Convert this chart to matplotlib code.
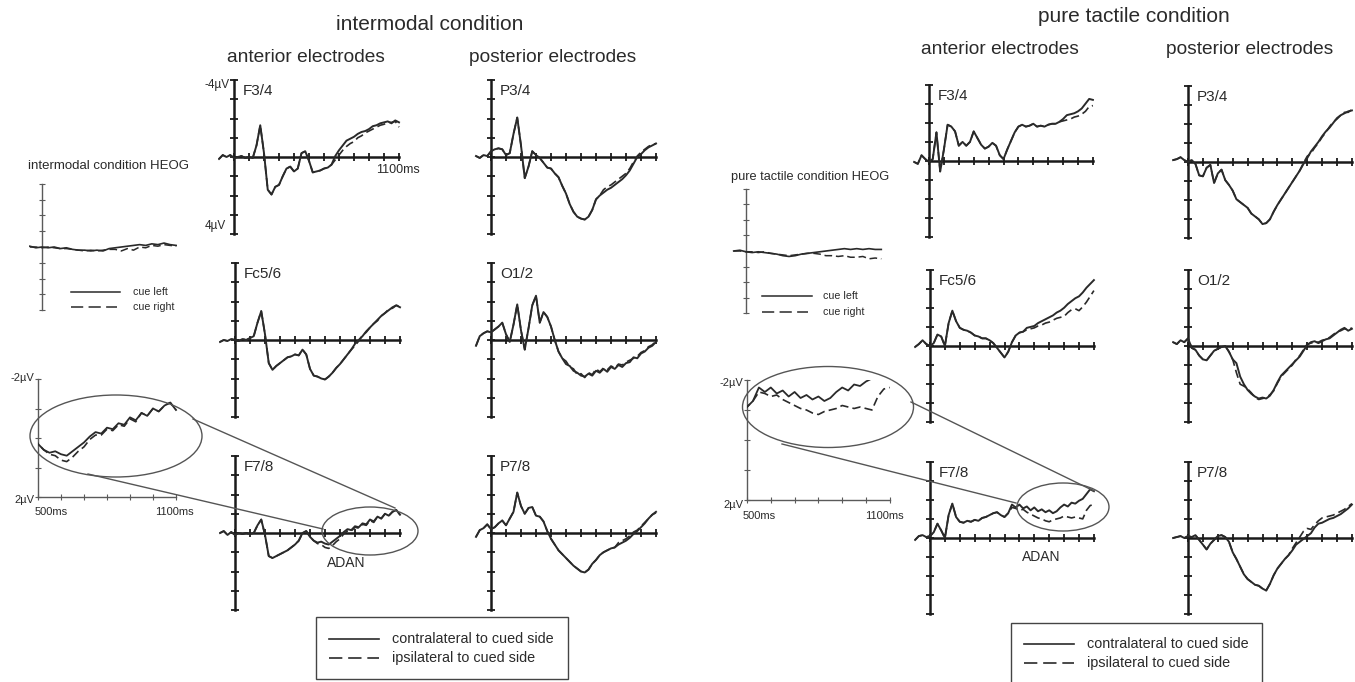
import matplotlib
matplotlib.use("Agg")
import matplotlib.pyplot as plt
from matplotlib.patches import Ellipse, Rectangle
from matplotlib.lines import Line2D

plt.rcParams['font.family'] = ['Liberation Sans', 'DejaVu Sans']

W, H = 1355, 682
TRACE = '#2a2a2a'
AXC = '#1a1a1a'
TXT = '#2a2a2a'
GRAY = '#5a5a5a'

# ---------------- data (µV, negative up) ----------------
times = list(range(-100, 1101, 25))       # 49 samples
heog_times = list(range(-100, 1101, 50))  # 25 samples

# intermodal condition
im_f34_contra = [0.10, -0.10, 0.00, -0.10, 0.05, 0.00, -0.05, 0.05, 0.00, 0.05,
                 -0.60, -1.65, -0.20, 1.70, 1.95, 1.55, 1.45, 1.00, 0.60, 0.50,
                 0.75, 0.60, -0.20, -0.30, 0.20, 0.80, 0.75, 0.70, 0.60, 0.55,
                 0.40, -0.05, -0.35, -0.60, -0.85, -0.95, -1.05, -1.20, -1.30, -1.35,
                 -1.45, -1.60, -1.65, -1.75, -1.80, -1.85, -1.75, -1.90, -1.80]
im_f34_ipsi = im_f34_contra[:31] + [0.15, -0.10, -0.35, -0.55, -0.70, -0.80, -1.00, -1.10,
                                    -1.25, -1.35, -1.45, -1.55, -1.65, -1.70, -1.80, -1.80,
                                    -1.85, -1.55]
im_p34_contra = [-0.05, 0.05, -0.10, -0.05, -0.30, -0.40, -0.45, -0.40, -0.10, -0.20,
                 -1.20, -2.05, -0.60, 1.10, 0.50, -0.30, -0.10, 0.05, 0.30, 0.55,
                 0.60, 0.85, 1.05, 1.50, 1.90, 2.45, 2.85, 3.10, 3.20, 3.25,
                 3.10, 2.75, 2.20, 2.00, 1.85, 1.70, 1.60, 1.45, 1.30, 1.15,
                 0.95, 0.70, 0.35, 0.00, -0.15, -0.35, -0.50, -0.60, -0.70]
im_p34_ipsi = im_p34_contra[:34] + [1.70, 1.55, 1.45, 1.30, 1.15, 1.00, 0.85, 0.60, 0.25,
                                    -0.05, -0.25, -0.40, -0.55, -0.65, -0.70]
im_fc56_contra = [0.10, 0.00, 0.05, -0.05, 0.00, 0.05, -0.05, 0.00, -0.10, -0.20,
                  -0.90, -1.50, -0.30, 1.20, 1.55, 1.35, 1.20, 1.05, 0.90, 0.85,
                  0.75, 0.80, 0.50, 0.75, 1.50, 1.85, 1.90, 2.00, 2.05, 1.90,
                  1.70, 1.45, 1.25, 1.00, 0.75, 0.50, 0.20, 0.00, -0.20, -0.45,
                  -0.65, -0.85, -1.05, -1.25, -1.40, -1.55, -1.70, -1.80, -1.70]
im_fc56_ipsi = im_fc56_contra[:36] + [0.30, 0.05, -0.25, -0.40, -0.65, -0.85, -1.00, -1.25,
                                      -1.40, -1.60, -1.65, -1.80, -1.75]
im_o12_contra = [0.30, -0.20, -0.35, -0.45, -0.40, -0.55, -0.70, -0.90, -0.30, 0.10,
                 -0.80, -1.85, -0.50, 0.50, -0.60, -1.80, -2.30, -0.90, -1.45, -1.20,
                 -0.70, 0.00, 0.60, 0.95, 1.25, 1.35, 1.60, 1.70, 1.85, 1.90,
                 1.75, 1.85, 1.60, 1.70, 1.50, 1.65, 1.40, 1.50, 1.30, 1.40,
                 1.20, 1.15, 0.90, 0.95, 0.70, 0.60, 0.40, 0.30, 0.10]
im_o12_ipsi = im_o12_contra[:24] + [1.10, 1.40, 1.50, 1.80, 1.75, 1.95, 1.70, 1.80, 1.50,
                                    1.65, 1.45, 1.55, 1.35, 1.45, 1.25, 1.30, 1.15, 1.05,
                                    0.95, 0.85, 0.65, 0.55, 0.35, 0.25, 0.05]
im_f78_contra = [0.00, -0.10, 0.10, -0.05, 0.10, 0.00, 0.05, 0.00, 0.05, 0.00,
                 -0.40, -0.70, 0.10, 1.20, 1.30, 1.20, 1.10, 1.00, 0.90, 0.75,
                 0.60, 0.40, 0.00, -0.10, 0.20, 0.40, 0.50, 0.45, 0.55, 0.60,
                 0.45, 0.30, 0.15, -0.05, -0.20, -0.15, -0.35, -0.30, -0.50, -0.45,
                 -0.70, -0.60, -0.85, -0.75, -1.00, -0.90, -1.10, -1.20, -0.95]
im_f78_ipsi = im_f78_contra[:26] + [0.55, 0.60, 0.75, 0.80, 0.65, 0.45, 0.30, 0.05, -0.10,
                                    -0.10, -0.30, -0.25, -0.45, -0.40, -0.65, -0.55, -0.85,
                                    -0.75, -1.00, -0.90, -1.10, -1.20, -0.95]
im_p78_contra = [0.20, -0.15, -0.25, -0.45, -0.20, -0.30, -0.50, -0.65, -0.40, -0.75,
                 -1.10, -2.10, -1.40, -1.00, -1.30, -1.35, -0.90, -0.85, -0.60, -0.10,
                 0.30, 0.60, 0.90, 1.10, 1.30, 1.50, 1.70, 1.85, 2.00, 2.05,
                 1.90, 1.60, 1.40, 1.15, 1.00, 0.90, 0.80, 0.75, 0.60, 0.50,
                 0.40, 0.25, 0.05, -0.10, -0.30, -0.50, -0.75, -0.95, -1.10]
im_p78_ipsi = im_p78_contra[:38] + [0.50, 0.40, 0.30, 0.15, -0.05, -0.15, -0.35, -0.55,
                                    -0.75, -0.95, -1.05]
im_heog_left = [-0.05, 0.05, 0.00, 0.05, 0.00, 0.10, 0.05, 0.15, 0.20, 0.20, 0.25, 0.20,
                0.25, 0.10, 0.05, 0.00, -0.05, -0.10, -0.15, -0.10, -0.20, -0.15, -0.25,
                -0.15, -0.10]
im_heog_right = [0.00, 0.00, 0.05, 0.00, 0.05, 0.10, 0.10, 0.15, 0.20, 0.25, 0.20, 0.25,
                 0.20, 0.15, 0.15, 0.25, 0.10, 0.20, 0.00, 0.05, -0.10, -0.05, -0.15,
                 -0.10, -0.05]

# pure tactile condition
pt_f34_contra = [0.05, 0.15, -0.30, -0.10, 0.05, -0.10, -1.50, 0.55, -0.60, -1.90,
                 -1.80, -1.55, -0.80, -1.00, -0.80, -1.00, -1.55, -1.20, -0.85, -0.65,
                 -0.75, -0.95, -0.80, -0.30, -0.10, -0.60, -1.05, -1.50, -1.80, -1.90,
                 -1.80, -1.85, -1.95, -1.80, -1.85, -1.80, -1.90, -1.95, -1.95, -2.05,
                 -2.20, -2.40, -2.45, -2.50, -2.60, -2.75, -3.00, -3.25, -3.20]
pt_f34_ipsi = pt_f34_contra[:40] + [-2.10, -2.15, -2.20, -2.30, -2.35, -2.45, -2.60, -2.85,
                                    -2.90]
pt_p34_contra = [-0.10, -0.15, -0.25, -0.10, 0.00, -0.10, 0.10, 0.70, 0.75, 0.30,
                 0.15, 1.10, 0.60, 0.40, 0.95, 1.20, 1.50, 1.95, 2.10, 2.25,
                 2.40, 2.70, 2.85, 3.00, 3.25, 3.20, 3.00, 2.60, 2.25, 1.95,
                 1.65, 1.35, 1.05, 0.75, 0.45, 0.10, -0.20, -0.55, -0.80, -1.05,
                 -1.35, -1.60, -1.80, -2.05, -2.30, -2.45, -2.55, -2.65, -2.70]
pt_p34_ipsi = pt_p34_contra[:35] + [0.05, -0.30, -0.45, -0.75, -1.00, -1.30, -1.55, -1.85,
                                    -2.10, -2.25, -2.45, -2.60, -2.60, -2.75]
pt_fc56_contra = [0.05, -0.10, -0.30, -0.10, 0.00, -0.15, -0.60, -0.50, 0.00, -1.20,
                  -1.85, -1.30, -0.95, -0.85, -0.80, -0.70, -0.55, -0.50, -0.40, -0.40,
                  -0.30, -0.15, 0.10, 0.35, 0.60, 0.30, -0.20, -0.55, -0.70, -0.75,
                  -0.95, -1.00, -1.05, -1.20, -1.30, -1.40, -1.50, -1.60, -1.75, -1.85,
                  -2.00, -2.20, -2.35, -2.50, -2.60, -2.80, -3.05, -3.25, -3.45]
pt_fc56_ipsi = pt_fc56_contra[:30] + [-0.85, -0.90, -0.95, -1.05, -1.10, -1.20, -1.25,
                                      -1.35, -1.45, -1.50, -1.55, -1.75, -1.90, -1.95,
                                      -1.85, -2.05, -2.30, -2.60, -2.90]
pt_o12_contra = [-0.20, -0.10, -0.30, -0.20, -0.40, 0.10, 0.20, 0.50, 0.70, 0.75,
                 0.50, 0.25, 0.15, 0.05, 0.00, 0.30, 0.70, 0.90, 1.60, 2.00,
                 2.30, 2.50, 2.65, 2.75, 2.70, 2.75, 2.60, 2.30, 1.90, 1.55,
                 1.35, 1.15, 0.95, 0.75, 0.55, 0.25, -0.05, -0.20, -0.25, -0.15,
                 -0.25, -0.35, -0.40, -0.55, -0.70, -0.85, -0.95, -0.80, -0.90]
pt_o12_ipsi = pt_o12_contra[:17] + [1.40, 2.00, 2.10, 2.25, 2.45, 2.70, 2.80, 2.75, 2.70,
                                    2.55, 2.35, 1.95, 1.60, 1.40, 1.20, 1.00, 0.70, 0.50,
                                    0.20, -0.10, -0.15, -0.20, -0.20, -0.30, -0.35, -0.45,
                                    -0.60, -0.75, -0.80, -0.90, -0.85, -0.95]
pt_f78_contra = [0.10, -0.10, -0.15, -0.05, -0.10, -0.30, -0.75, -0.40, 0.00, -1.20,
                 -1.80, -1.10, -0.85, -0.80, -0.90, -0.85, -0.95, -0.90, -1.05, -1.10,
                 -1.20, -1.30, -1.35, -1.20, -1.10, -1.30, -1.75, -1.60, -1.75, -1.55,
                 -1.65, -1.45, -1.60, -1.40, -1.50, -1.35, -1.45, -1.30, -1.40, -1.60,
                 -1.75, -1.65, -1.85, -1.80, -1.95, -2.05, -2.30, -2.55, -2.45]
pt_f78_ipsi = pt_f78_contra[:26] + [-1.60, -1.55, -1.45, -1.50, -1.35, -1.25, -1.15, -1.05,
                                    -1.00, -0.90, -0.85, -0.95, -1.00, -1.05, -1.15, -1.10,
                                    -1.05, -1.10, -1.05, -1.00, -1.45, -1.70, -1.75]
pt_p78_contra = [0.00, -0.05, -0.10, 0.00, -0.10, -0.05, -0.15, 0.10, 0.35, 0.60,
                 0.30, 0.10, -0.10, -0.15, -0.05, 0.20, 0.75, 1.10, 1.50, 1.90,
                 2.15, 2.30, 2.45, 2.50, 2.65, 2.75, 2.40, 1.95, 1.60, 1.35,
                 1.10, 0.90, 0.65, 0.35, 0.20, 0.05, -0.10, -0.25, -0.55, -0.75,
                 -0.80, -0.90, -1.00, -1.05, -1.15, -1.25, -1.40, -1.55, -1.75]
pt_p78_ipsi = pt_p78_contra[:32] + [0.55, 0.25, -0.05, -0.35, -0.50, -0.45, -0.70, -0.90,
                                    -1.05, -1.10, -1.15, -1.20, -1.30, -1.40, -1.50, -1.65,
                                    -1.80]
pt_heog_left = [0.00, -0.05, 0.05, 0.10, 0.05, 0.10, 0.15, 0.20, 0.30, 0.35, 0.30, 0.20,
                0.15, 0.10, 0.05, 0.00, -0.05, -0.10, -0.15, -0.10, -0.15, -0.10, -0.15,
                -0.10, -0.10]
pt_heog_right = [0.00, 0.00, 0.05, 0.05, 0.10, 0.05, 0.15, 0.20, 0.25, 0.30, 0.25, 0.20,
                 0.15, 0.15, 0.20, 0.30, 0.30, 0.35, 0.30, 0.40, 0.40, 0.35, 0.50, 0.45,
                 0.50]

x_ticks_ms = list(range(0, 1101, 100))
y_ticks_uv = list(range(-4, 5))
inset_x_ticks = list(range(500, 1101, 100))
inset_y_ticks = list(range(-2, 3))

# ---------------- figure ----------------
fig = plt.figure(figsize=(W / 100, H / 100), dpi=100)
fig.patch.set_facecolor('white')
DASH = (0, (5, 2.5))
LEG_DASH = (0, (8, 3.5))


def fx(x):
    return x / W


def fy(y):
    return 1 - y / H


def ftext(x, y, s, size, ha='left', va='center', **kw):
    fig.text(fx(x), fy(y), s, fontsize=size, ha=ha, va=va, color=TXT, **kw)


def make_axes(ax_x, zero_y, pxms, pxuv, tmin, tmax, vtop, vbot):
    # ax_x: pixel column of t = 0 ms, zero_y: pixel row of 0 µV
    left = ax_x + tmin / 100 * pxms
    right = ax_x + tmax / 100 * pxms
    top = zero_y + vtop * pxuv
    bottom = zero_y + vbot * pxuv
    ax = fig.add_axes([fx(left), fy(bottom), (right - left) / W, (bottom - top) / H])
    ax.set_xlim(tmin, tmax)
    ax.set_ylim(vbot, vtop)
    ax.patch.set_alpha(0)
    return ax


def erp_panel(ax_x, zero_y, pxms, pxuv, label, contra, ipsi):
    ax = make_axes(ax_x, zero_y, pxms, pxuv, -110, 1115, -4.3, 4.3)
    for s in ('top', 'right'):
        ax.spines[s].set_visible(False)
    ax.spines['left'].set_position(('data', 0))
    ax.spines['bottom'].set_position(('data', 0))
    ax.spines['left'].set_bounds(-4, 4)
    ax.spines['bottom'].set_bounds(0, 1100)
    for s in ('left', 'bottom'):
        ax.spines[s].set_linewidth(1.8)
        ax.spines[s].set_color(AXC)
    ax.set_xticks(x_ticks_ms)
    ax.set_yticks(y_ticks_uv)
    ax.tick_params(direction='inout', length=6, width=1.3, colors=AXC,
                   labelbottom=False, labelleft=False)
    ax.plot(times, contra, color=TRACE, lw=1.4, zorder=3)
    ax.plot(times, ipsi, color=TRACE, lw=1.2, ls=DASH, zorder=3)
    ftext(ax_x + 9, zero_y - 4 * pxuv + 11, label, 11)
    return ax


def heog_panel(ax_x, zero_y, pxms, pxuv, left_vals, right_vals):
    ax = make_axes(ax_x, zero_y, pxms, pxuv, -110, 1110, -4.2, 4.2)
    for s in ('top', 'right', 'bottom'):
        ax.spines[s].set_visible(False)
    ax.spines['left'].set_position(('data', 0))
    ax.spines['left'].set_bounds(-4, 4)
    ax.spines['left'].set_linewidth(1.0)
    ax.spines['left'].set_color(GRAY)
    ax.set_xticks([])
    ax.set_yticks(y_ticks_uv)
    ax.tick_params(axis='y', direction='inout', length=4, width=0.8, colors=GRAY,
                   labelleft=False)
    ax.plot(heog_times, left_vals, color=TRACE, lw=1.2, zorder=3)
    ax.plot(heog_times, right_vals, color=TRACE, lw=1.1, ls=DASH, zorder=3)
    return ax


def inset_panel(x500, zero_y, pxms, pxuv, contra, ipsi):
    # x500: pixel column of t = 500 ms (the inset's origin)
    ax = make_axes(x500 - 5 * pxms, zero_y, pxms, pxuv, 500, 1108, -2, 2)
    for s in ('top', 'right'):
        ax.spines[s].set_visible(False)
    ax.spines['bottom'].set_bounds(500, 1100)
    for s in ('left', 'bottom'):
        ax.spines[s].set_linewidth(1.0)
        ax.spines[s].set_color(GRAY)
    ax.set_xticks(inset_x_ticks)
    ax.set_yticks(inset_y_ticks)
    ax.tick_params(direction='inout', length=4, width=0.8, colors=GRAY,
                   labelbottom=False, labelleft=False)
    ax.plot(times, contra, color=TRACE, lw=1.3, zorder=3)
    ax.plot(times, ipsi, color=TRACE, lw=1.2, ls=DASH, zorder=3)
    return ax


def fig_line(x0, y0, x1, y1, **kw):
    fig.add_artist(Line2D([fx(x0), fx(x1)], [fy(y0), fy(y1)],
                          transform=fig.transFigure, **kw))


def fig_ellipse(cx, cy, w, h):
    fig.add_artist(Ellipse((fx(cx), fy(cy)), w / W, h / H, transform=fig.transFigure,
                           fill=False, edgecolor='#555555', lw=1.0))


def legend_box(x0, y0, x1, y1, lx0, lx1, tx, ya, yb):
    fig.add_artist(Rectangle((fx(x0), fy(y1)), (x1 - x0) / W, (y1 - y0) / H,
                             transform=fig.transFigure, fill=False,
                             edgecolor='#444444', lw=1.0))
    fig_line(lx0, ya, lx1, ya, color=TRACE, lw=1.2)
    fig_line(lx0, yb, lx1, yb, color=TRACE, lw=1.2, ls=LEG_DASH)
    ftext(tx, ya, 'contralateral to cued side', 10.4)
    ftext(tx, yb, 'ipsilateral to cued side', 10.4)


# ---------------- intermodal condition ----------------
ftext(430, 25, 'intermodal condition', 15, ha='center')
ftext(306, 57, 'anterior electrodes', 13.8, ha='center')
ftext(553, 57, 'posterior electrodes', 13.8, ha='center')

PX_IM, UV_IM = 15.0, 19.25
erp_panel(234, 157, PX_IM, UV_IM, 'F3/4', im_f34_contra, im_f34_ipsi)
erp_panel(491, 157, PX_IM, UV_IM, 'P3/4', im_p34_contra, im_p34_ipsi)
erp_panel(235, 340, PX_IM, UV_IM, 'Fc5/6', im_fc56_contra, im_fc56_ipsi)
erp_panel(491, 340, PX_IM, UV_IM, 'O1/2', im_o12_contra, im_o12_ipsi)
erp_panel(235, 533, PX_IM, UV_IM, 'F7/8', im_f78_contra, im_f78_ipsi)
erp_panel(491, 533, PX_IM, UV_IM, 'P7/8', im_p78_contra, im_p78_ipsi)

ftext(230, 85, '-4µV', 8.5, ha='right')
ftext(226, 226, '4µV', 8.5, ha='right')
ftext(398, 170, '1100ms', 9, ha='center')
ftext(346, 563, 'ADAN', 10, ha='center')

# HEOG
ftext(108, 166, 'intermodal condition HEOG', 9.5, ha='center')
heog_panel(42, 247, 12.2, 15.8, im_heog_left, im_heog_right)
fig_line(71, 292, 120, 292, color=TRACE, lw=1.1)
fig_line(71, 307, 117, 307, color=TRACE, lw=1.1, ls=LEG_DASH)
ftext(133, 292, 'cue left', 7.7)
ftext(133, 307, 'cue right', 7.7)

# zoom inset
inset_panel(38, 438, 23.0, 29.5, im_f78_contra, im_f78_ipsi)
ftext(34, 378, '-2µV', 8, ha='right')
ftext(34, 500, '2µV', 8, ha='right')
ftext(35, 512, '500ms', 8)
ftext(174, 512, '1100ms', 8, ha='center')
fig_ellipse(116, 436, 172, 82)
fig_ellipse(370, 531, 96, 48)
fig_line(193, 419, 395, 508, color='#555555', lw=1.0)
fig_line(88, 474, 323, 529, color='#555555', lw=1.0)

legend_box(316, 617, 568, 679, 329, 379, 392, 639, 658)

# ---------------- pure tactile condition ----------------
ftext(1134, 17, 'pure tactile condition', 15, ha='center')
ftext(1000, 49, 'anterior electrodes', 13.8, ha='center')
ftext(1250, 50, 'posterior electrodes', 13.8, ha='center')

PX_PT, UV_PT = 14.9, 19.1
erp_panel(929, 161, PX_PT, UV_PT, 'F3/4', pt_f34_contra, pt_f34_ipsi)
erp_panel(1188, 162, PX_PT, UV_PT, 'P3/4', pt_p34_contra, pt_p34_ipsi)
erp_panel(930, 346, PX_PT, UV_PT, 'Fc5/6', pt_fc56_contra, pt_fc56_ipsi)
erp_panel(1188, 346, PX_PT, UV_PT, 'O1/2', pt_o12_contra, pt_o12_ipsi)
erp_panel(930, 538, PX_PT, UV_PT, 'F7/8', pt_f78_contra, pt_f78_ipsi)
erp_panel(1188, 538, PX_PT, UV_PT, 'P7/8', pt_p78_contra, pt_p78_ipsi)
ftext(1041, 557, 'ADAN', 10, ha='center')

ftext(810, 177, 'pure tactile condition HEOG', 9.2, ha='center')
heog_panel(746, 251, 12.3, 15.6, pt_heog_left, pt_heog_right)
fig_line(762, 296, 812, 296, color=TRACE, lw=1.1)
fig_line(762, 312, 808, 312, color=TRACE, lw=1.1, ls=LEG_DASH)
ftext(823, 296, 'cue left', 7.7)
ftext(823, 312, 'cue right', 7.7)

inset_panel(747, 440, 23.8, 30.0, pt_f78_contra, pt_f78_ipsi)
ftext(743, 383, '-2µV', 8, ha='right')
ftext(743, 505, '2µV', 8, ha='right')
ftext(743, 516, '500ms', 8)
ftext(884, 516, '1100ms', 8, ha='center')
fig_ellipse(828, 407, 171, 81)
fig_ellipse(1063, 507, 92, 48)
fig_line(911, 402, 1094, 491, color='#555555', lw=1.0)
fig_line(782, 444, 1016, 503, color='#555555', lw=1.0)

legend_box(1011, 623, 1262, 686, 1024, 1074, 1087, 644, 663)

fig.savefig('out.png', dpi=100, facecolor='white')
